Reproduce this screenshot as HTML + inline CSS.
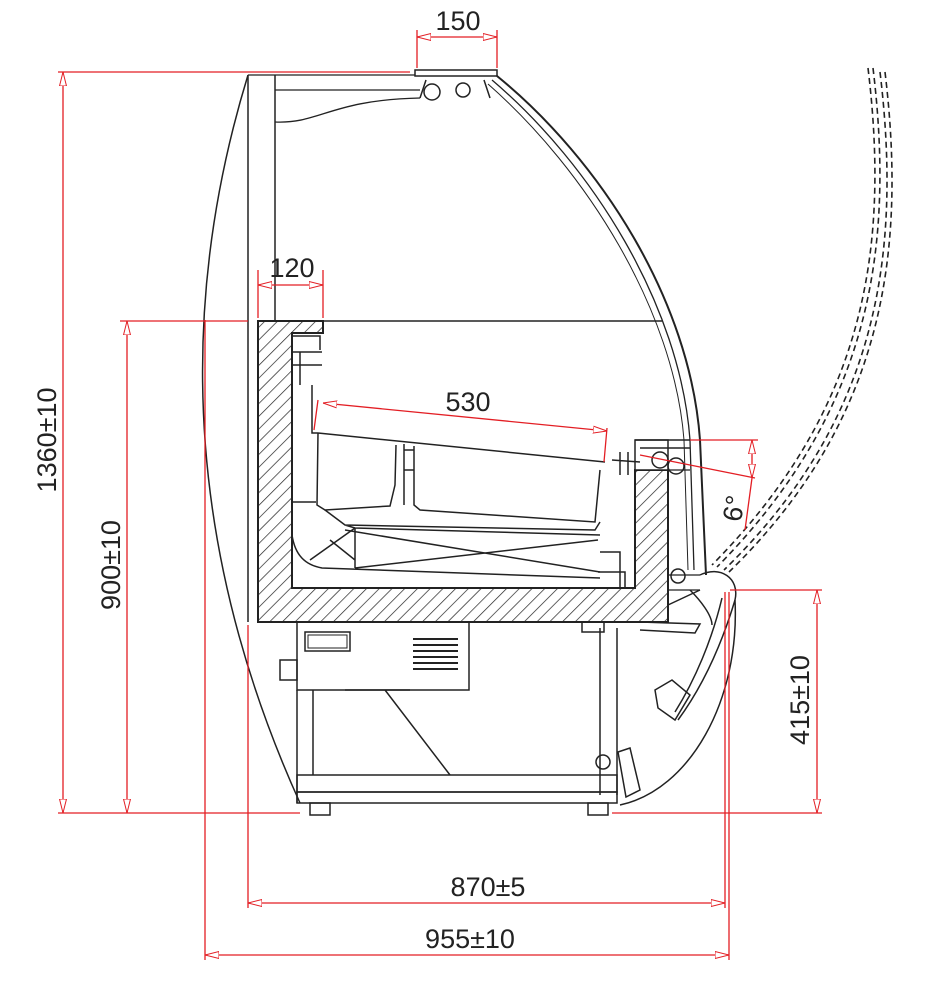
<!DOCTYPE html>
<html><head><meta charset="utf-8"><style>
html,body{margin:0;padding:0;background:#fff;}
svg{display:block;}
text{font-family:"Liberation Sans",sans-serif;fill:#222;}
</style></head><body>
<svg width="932" height="983" viewBox="0 0 932 983" xmlns="http://www.w3.org/2000/svg">
<defs>
<pattern id="h" patternUnits="userSpaceOnUse" width="9" height="9" patternTransform="rotate(45)">
<line x1="0" y1="0" x2="0" y2="9" stroke="#222" stroke-width="1.4"/>
</pattern>
<marker id="a" markerWidth="14" markerHeight="8" refX="14" refY="4" orient="auto-start-reverse" markerUnits="userSpaceOnUse">
<path d="M14,4 L0,0.5 L0,7.5 Z" fill="#fff" stroke="#e31e24" stroke-width="1"/>
</marker>
</defs>

<g fill="none" stroke="#222" stroke-width="1.5">
<path d="M248,75 Q136,441 300,803"/>
<path d="M248,75 L248,622 M275,75 L275,321"/>
<path d="M248,75 L415,75 M275,90 L420,90 M275,122 C320,124 330,100 420,98" stroke-width="1.3"/>
<rect x="415" y="70" width="82" height="6" stroke-width="1.5"/>
<circle cx="432" cy="92" r="8"/><circle cx="463" cy="90" r="7"/>
<path d="M420,98 L426,80 M490,98 L484,80"/>
<path d="M497,76 C600,160 690,300 700,440 L706,575" stroke-width="2"/>
<path d="M492,80 C592,165 680,305 690,440 L694,570" stroke-width="1.3"/>
<path d="M488,84 C586,170 674,310 684,440 L688,570" stroke-width="1"/>
<g stroke-dasharray="6,4" stroke-width="1.6">
<path d="M868,68 C890,250 865,410 712,565"/>
<path d="M873,68 C895,250 870,412 717,567"/>
<path d="M880,72 C902,255 878,420 724,570"/>
<path d="M885,72 C907,255 883,422 729,572"/>
</g>
<path d="M323,321 L662,321"/>
<path d="M258,321 L323,321 L323,333 L292,333 L292,588 L635,588 L635,470 L668,470 L668,622 L258,622 Z" fill="url(#h)" stroke="#222" stroke-width="2"/>
<rect x="635" y="440" width="33" height="30" fill="#fff"/>
<path d="M635,440 L690,440 M640,448 L690,448"/>
<circle cx="660" cy="460" r="8"/><circle cx="676" cy="466" r="8"/>
<path d="M612,460 L640,462 M620,452 L620,475 M628,452 L628,475"/>
<path d="M292,336 L320,336 L320,350 M292,352 L322,352 M292,365 L322,365 M300,352 L300,385 M312,385 L312,433 L318,433"/>
<path d="M318,433 L605,462 M318,433 L317,505 L325,510 L390,506 L395,485 L396,445 M404,444 L404,505 M414,446 L414,505 L420,510 L595,522 L600,470 M404,450 L414,450 L414,470 L404,470"/>
<path d="M325,510 L345,525 L595,530 L600,522 M345,525 L355,528 L600,535"/>
<path d="M292,502 L316,502 M292,535 C295,555 305,565 322,568 L600,578 M355,528 L355,568 M355,528 L310,560 M330,540 L355,560 M345,530 L600,572 M355,568 L598,540"/>
<path d="M600,552 L620,552 L620,588 M598,572 L625,572 L625,588"/>
<path d="M668,470 L690,470 M668,575 L700,575 M668,590 L700,590" stroke-width="1.3"/>
<circle cx="678" cy="576" r="7"/>
<path d="M700,575 C720,565 740,578 735,600 C740,700 690,790 620,805" stroke-width="1.5"/>
<path d="M690,590 C700,600 712,615 712,625 M735,600 C720,650 700,690 678,720 M722,598 C712,640 695,680 675,712 M668,605 L700,590"/>
<path d="M655,690 L672,680 L690,695 L675,720 L658,708 Z"/>
<path d="M618,752 L630,748 L640,790 L626,797 Z"/>
<path d="M640,622 L700,624 L695,633 L640,630"/>
<rect x="297" y="622" width="172" height="68"/>
<rect x="305" y="632" width="45" height="19"/>
<rect x="308" y="635" width="39" height="13" stroke-width="1"/>
<g stroke-width="2">
<path d="M413,639 L458,639 M413,645 L458,645 M413,651 L458,651 M413,657 L458,657 M413,663 L458,663 M413,669 L458,669"/>
</g>
<rect x="280" y="660" width="17" height="20"/>
<path d="M345,690 L410,690 M385,690 L450,775"/>
<path d="M297,690 L297,803 M313,690 L313,775 M600,628 L600,795 M617,628 L617,795"/>
<rect x="297" y="775" width="320" height="17"/>
<rect x="297" y="792" width="320" height="11"/>
<rect x="310" y="803" width="20" height="12"/>
<rect x="588" y="803" width="20" height="12"/>
<circle cx="603" cy="762" r="7"/>
<rect x="582" y="622" width="22" height="10"/>
</g>

<g stroke="#e31e24" stroke-width="1.3" fill="none">
<path d="M58,72 L410,72 M58,813 L300,813 M120,321 L248,321 M730,590 L822,590 M612,813 L822,813"/>
<path d="M248,625 L248,908 M725,592 L725,908 M205,320 L205,960 M729,592 L729,960"/>
<path d="M417,30 L417,68 M497,30 L497,68 M258,270 L258,318 M323,270 L323,318"/>
<path d="M690,440 L758,440 M640,455 L755,478 M752,478 L745,530 M318,400 L314,430 M607,428 L604,462"/>
<line x1="63" y1="72" x2="63" y2="813" marker-start="url(#a)" marker-end="url(#a)"/>
<line x1="127" y1="321" x2="127" y2="813" marker-start="url(#a)" marker-end="url(#a)"/>
<line x1="817" y1="590" x2="817" y2="813" marker-start="url(#a)" marker-end="url(#a)"/>
<line x1="248" y1="903" x2="725" y2="903" marker-start="url(#a)" marker-end="url(#a)"/>
<line x1="205" y1="955" x2="729" y2="955" marker-start="url(#a)" marker-end="url(#a)"/>
<line x1="417" y1="37" x2="497" y2="37" marker-start="url(#a)" marker-end="url(#a)"/>
<line x1="258" y1="285" x2="323" y2="285" marker-start="url(#a)" marker-end="url(#a)"/>
<line x1="323" y1="403" x2="607" y2="431" marker-start="url(#a)" marker-end="url(#a)"/>
<line x1="752" y1="440" x2="752" y2="478" marker-start="url(#a)" marker-end="url(#a)"/>
</g>

<g font-size="27">
<text x="458" y="30" text-anchor="middle">150</text>
<text x="292" y="277" text-anchor="middle">120</text>
<text x="468" y="411" text-anchor="middle">530</text>
<text x="488" y="896" text-anchor="middle">870±5</text>
<text x="470" y="948" text-anchor="middle">955±10</text>
<text transform="translate(56,440) rotate(-90)" text-anchor="middle">1360±10</text>
<text transform="translate(120,565) rotate(-90)" text-anchor="middle">900±10</text>
<text transform="translate(809,700) rotate(-90)" text-anchor="middle">415±10</text>
<text transform="translate(743,510) rotate(-80)" text-anchor="middle">6°</text>
</g>
</svg>
</body></html>
